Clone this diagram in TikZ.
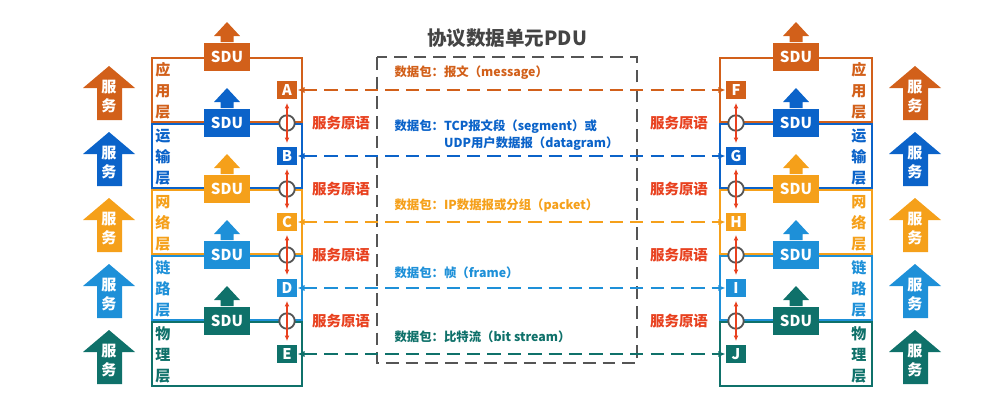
\documentclass[tikz,border=0pt]{standalone}
\usepackage{fontspec}
\setmainfont{Noto Sans CJK SC}
\usetikzlibrary{arrows.meta}
\definecolor{cAnw}{HTML}{D2601A}
\definecolor{cTrp}{HTML}{0B63C9}
\definecolor{cNet}{HTML}{F5A01A}
\definecolor{cSic}{HTML}{1E90D8}
\definecolor{cPhy}{HTML}{0F716A}
\definecolor{cRot}{HTML}{E8411F}
\definecolor{cGrau}{HTML}{555555}
\definecolor{cTitel}{HTML}{444444}
\begin{document}
\begin{tikzpicture}[x=0.025cm, y=-0.025cm, thick,
  >={Latex[length=5pt,width=4.5pt]},
  sdu/.style={fill=#1, text=white, minimum width=32.7pt, minimum height=20.5pt, inner sep=0pt, font=\fontsize{10.7}{12}\selectfont\bfseries},
  buchst/.style={fill=#1, text=white, minimum width=14.2pt, minimum height=13.5pt, inner sep=0pt, font=\fontsize{10.5}{12}\selectfont\bfseries},
  schicht/.style={text=#1, align=center, inner sep=0pt, font=\fontsize{10.7}{15}\selectfont\bfseries},
  dienst/.style={text=white, align=center, inner sep=0pt, font=\fontsize{10.7}{13.5}\selectfont\bfseries},
  primitiv/.style={text=cRot, inner sep=1pt, font=\fontsize{10.3}{12}\selectfont\bfseries},
  pdu/.style={text=#1, align=left, anchor=west, inner sep=0pt, font=\fontsize{8.8}{12.1}\selectfont\bfseries},
  kreis/.style={circle, draw=cGrau, fill=white, line width=1.3pt, minimum size=11pt, inner sep=0pt},
  datenpfeil/.style={<->, #1, line width=1.9pt, dash pattern=on 9.5pt off 5pt},
  rotpfeil/.style={{Latex[length=4pt,width=3.5pt]}-{Latex[length=4pt,width=3.5pt]}, cRot, line width=0.9pt, shorten <=2pt, shorten >=2pt}]
\useasboundingbox (0,0) rectangle (984,407);
% Titel und PDU-Rahmen
\node[text=cTitel, font=\fontsize{13.9}{16}\selectfont\bfseries] (titel) at (507,38) {协议数据单元PDU};
\draw[cGrau, line width=2pt, dash pattern=on 9pt off 5pt] (377,57) rectangle (637,363);
% Schichten links und rechts
\foreach \y/\f/\bez/\li/\re [count=\nr] in {57/cAnw/应\\用\\层/A/F, 123/cTrp/运\\输\\层/B/G,
    189/cNet/网\\络\\层/C/H, 255/cSic/链\\路\\层/D/I, 321/cPhy/物\\理\\层/E/J} {
  \draw[\f, line width=1.3pt] (152,\y+1) rectangle (302,\y+65);
  \draw[\f, line width=1.3pt] (720,\y+1) rectangle (872,\y+65);
  \node[schicht=\f] (nl\nr) at (163,\y+34) {\bez};
  \node[schicht=\f] (nr\nr) at (859,\y+34) {\bez};
  % SDU mit Pfeil nach oben
  \node[sdu=\f] (sl\nr) at (227,\y) {SDU};
  \node[sdu=\f] (sr\nr) at (796,\y) {SDU};
  \fill[\f] (sl\nr.north) ++(-6.5,0) -- ++(0,-6) -- ++(-6.5,0) -- ++(13,-14) -- ++(13,14) -- ++(-6.5,0) -- ++(0,6) -- cycle;
  \fill[\f] (sr\nr.north) ++(-6.5,0) -- ++(0,-6) -- ++(-6.5,0) -- ++(13,-14) -- ++(13,14) -- ++(-6.5,0) -- ++(0,6) -- cycle;
  % Dienst-Pfeile aussen
  \fill[\f] (97,\y+63) -- (97,\y+31) -- (83,\y+31) -- (109,\y+9) -- (135,\y+31) -- (122,\y+31) -- (122,\y+63) -- cycle;
  \fill[\f] (903,\y+63) -- (903,\y+31) -- (889,\y+31) -- (915,\y+9) -- (941,\y+31) -- (928,\y+31) -- (928,\y+63) -- cycle;
  \node[dienst] (dl\nr) at (109,\y+40) {服\\务};
  \node[dienst] (dr\nr) at (915,\y+40) {服\\务};
  % Buchstaben und gestrichelte Verbindung
  \node[buchst=\f] (\li) at (287,\y+33) {\li};
  \node[buchst=\f] (\re) at (736,\y+33) {\re};
  \draw[datenpfeil=\f] (\li) -- (\re);
}
% Dienstprimitive zwischen den Schichten
\foreach \lo/\lu/\ro/\ru/\y in {A/B/F/G/123, B/C/G/H/189, C/D/H/I/255, D/E/I/J/321} {
  \node[kreis] (kl\lu) at (287,\y) {};
  \node[kreis] (kr\ru) at (736,\y) {};
  \draw[rotpfeil] (\lo) -- (\lu);
  \draw[rotpfeil] (\ro) -- (\ru);
  \node[primitiv] (pl\lu) at (341,\y) {服务原语};
  \node[primitiv] (pr\ru) at (679,\y) {服务原语};
}
% Beschriftung der Datenpakete
\node[pdu=cAnw] (p1) at (394,73) {数据包：报文（message）};
\node[pdu=cTrp] (p2) at (394,135.5) {数据包：TCP报文段（segment）或\\\phantom{数据包：}UDP用户数据报（datagram）};
\node[pdu=cNet] (p3) at (394,205) {数据包：IP数据报或分组（packet）};
\node[pdu=cSic] (p4) at (394,273) {数据包：帧（frame）};
\node[pdu=cPhy] (p5) at (394,337) {数据包：比特流（bit stream）};
\end{tikzpicture}
\end{document}
